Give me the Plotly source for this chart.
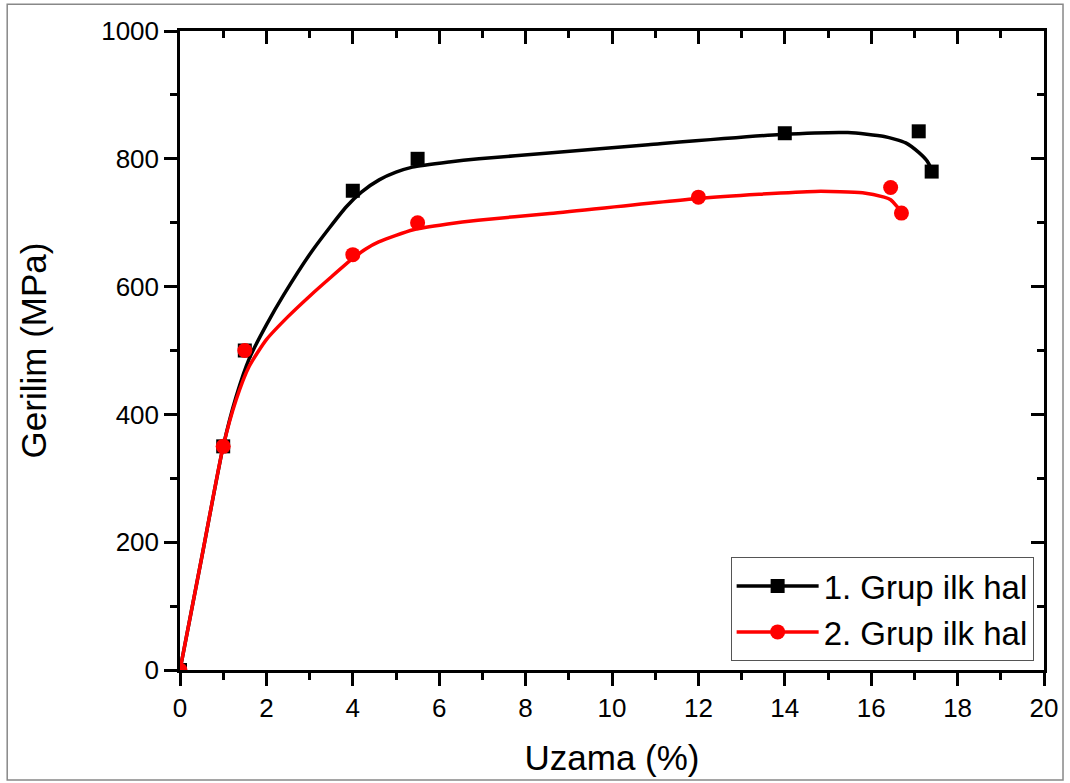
import plotly.graph_objects as go

# Measured data points
g1_x = [0, 1.0, 1.5, 4.0, 5.5, 14.0, 17.1, 17.4]
g1_y = [0, 350, 500, 750, 800, 840, 843, 780]
g2_x = [0, 1.0, 1.5, 4.0, 5.5, 12.0, 16.45, 16.7]
g2_y = [0, 350, 500, 650, 700, 740, 755, 715]

# Fitted curves
c1_x = [0, 0.5, 1.0, 1.3, 1.6, 2.0, 2.4, 3.07, 3.85, 4.2, 4.61, 5.0, 5.38, 6.23, 6.92, 8.54, 10.84, 13.9, 15.46, 16.3, 16.8, 17.1, 17.3, 17.42]
c1_y = [0, 175, 350, 428, 487, 540, 587, 657, 725, 748, 767, 779, 787, 795, 800, 809, 822, 838, 841, 835, 825, 810, 796, 780]
c2_x = [0, 0.5, 1.0, 1.3, 1.6, 2.0, 2.5, 3.0, 3.5, 4.0, 4.3, 4.6, 5.4, 6.2, 6.9, 8.5, 12.0, 14.7, 15.8, 16.3, 16.45, 16.6, 16.72]
c2_y = [0, 175, 350, 423, 475, 517, 553, 585, 615, 644, 659, 670, 689, 698, 704, 714, 738, 749, 747, 740, 736, 725, 715]

names = ["1. Grup ilk hal", "2. Grup ilk hal"]
colors = ["#000000", "#FF0000"]
symbols = ["square", "circle"]
msizes = [14, 15]

FONT = "Arial, Liberation Sans, sans-serif"

fig = go.Figure()
for cx, cy, px, py, col, sym, ms in [
    (c1_x, c1_y, g1_x, g1_y, colors[0], symbols[0], msizes[0]),
    (c2_x, c2_y, g2_x, g2_y, colors[1], symbols[1], msizes[1]),
]:
    fig.add_trace(go.Scatter(x=cx, y=cy, mode="lines", line=dict(color=col, width=3.5, shape="spline", smoothing=0.6),
                             showlegend=False, hoverinfo="skip"))
    fig.add_trace(go.Scatter(x=px, y=py, mode="markers", marker=dict(symbol=sym, size=ms, color=col),
                             showlegend=False))

for nm, col, sym, ms in zip(names, colors, symbols, msizes):
    fig.add_trace(go.Scatter(x=[None], y=[None], mode="lines+markers", name=nm,
                             line=dict(color=col, width=3.5), marker=dict(symbol=sym, size=ms, color=col)))

# invisible trace on mirror axes
fig.add_trace(go.Scatter(x=[None], y=[None], xaxis="x2", yaxis="y2", showlegend=False))

axcommon = dict(showgrid=False, zeroline=False, showline=True, linecolor="black", linewidth=2.5,
                tickcolor="black", tickwidth=2.5, ticklen=13)

fig.update_layout(
    width=1070, height=783,
    margin=dict(l=180, r=23, t=31, b=112),
    paper_bgcolor="white", plot_bgcolor="white",
    font=dict(family=FONT, color="black"),
    xaxis=dict(range=[0, 20], dtick=2, ticks="outside", tickfont=dict(size=26),
               minor=dict(dtick=1, ticks="outside", ticklen=7, tickwidth=2.5, tickcolor="black"),
               title=dict(text="Uzama (%)", font=dict(size=35), standoff=24), **axcommon),
    yaxis=dict(range=[0, 1000], dtick=200, ticks="outside", tickfont=dict(size=26),
               minor=dict(dtick=100, ticks="outside", ticklen=7, tickwidth=2.5, tickcolor="black"),
               title=dict(text="Gerilim (MPa)", font=dict(size=35), standoff=44), **axcommon),
    xaxis2=dict(range=[0, 20], dtick=2, ticks="inside", overlaying="x", side="top", showticklabels=False,
                minor=dict(dtick=1, ticks="inside", ticklen=7, tickwidth=2.5, tickcolor="black"), **axcommon),
    yaxis2=dict(range=[0, 1000], dtick=200, ticks="inside", overlaying="y", side="right", showticklabels=False,
                minor=dict(dtick=100, ticks="inside", ticklen=7, tickwidth=2.5, tickcolor="black"), **axcommon),
    legend=dict(x=0.988, y=0.014, xanchor="right", yanchor="bottom", bgcolor="white",
                bordercolor="#555555", borderwidth=1, font=dict(size=33), itemwidth=82,
                tracegroupgap=0),
    shapes=[dict(type="rect", xref="paper", yref="paper", x0=-0.2, x1=1.022, y0=-0.172, y1=1.042,
                 line=dict(color="#888888", width=1.5), fillcolor="rgba(0,0,0,0)", layer="below")],
)

fig.write_html("out.html")
